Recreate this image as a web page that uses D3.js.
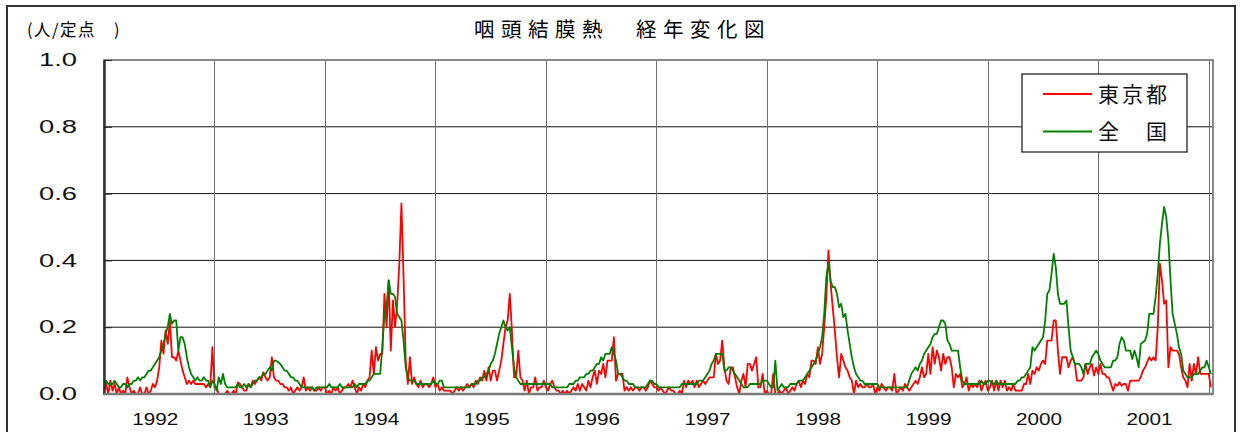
<!DOCTYPE html>
<html>
<head>
<meta charset="utf-8">
<script src="https://cdn.jsdelivr.net/npm/d3@7"></script>
<style>
  body { margin: 0; background: #fff; }
  svg { display: block; }
</style>
</head>
<body>
<div id="chart"></div>
<script>
// weekly reports per sentinel, 52 weeks a year, 1992 w1 .. 2002 w2
const years = [1992, 1993, 1994, 1995, 1996, 1997, 1998, 1999, 2000, 2001];
const yTicks = [0, 0.2, 0.4, 0.6, 0.8, 1.0];
const seriesNames = ["東京都", "全\u3000国"];

const tokyo = [
  // 1992
  0.01,0.03,0.00,0.04,0.01,0.03,0.00,0.02,0.00,0.01, 0.00,0.05,0.02,0.00,0.01,0.00,0.00,0.02,0.00,0.00,
  0.02,0.00,0.01,0.03,0.02,0.04,0.08,0.16,0.12,0.19, 0.15,0.22,0.11,0.11,0.10,0.13,0.10,0.07,0.05,0.03,
  0.04,0.03,0.04,0.03,0.03,0.03,0.03,0.03,0.02,0.03, 0.02,0.14,
  // 1993
  0.02,0.02,0.00,0.00,0.00,0.00,0.01,0.00,0.00,0.01, 0.00,0.035,0.03,0.02,0.01,0.01,0.03,0.02,0.04,0.03,
  0.04,0.05,0.04,0.065,0.05,0.04,0.05,0.11,0.05,0.04, 0.04,0.03,0.03,0.02,0.02,0.01,0.02,0.00,0.01,0.02,
  0.01,0.02,0.05,0.01,0.02,0.01,0.02,0.01,0.01,0.02, 0.01,0.02,
  // 1994
  0.02,0.00,0.01,0.00,0.02,0.01,0.02,0.00,0.01,0.02, 0.02,0.03,0.02,0.04,0.02,0.00,0.02,0.01,0.03,0.02,
  0.04,0.05,0.13,0.06,0.14,0.10,0.12,0.12,0.30,0.20, 0.34,0.13,0.28,0.20,0.27,0.39,0.57,0.35,0.10,0.03,
  0.11,0.03,0.05,0.03,0.02,0.04,0.02,0.03,0.03,0.02, 0.03,0.05,
  // 1995
  0.02,0.03,0.01,0.02,0.01,0.01,0.01,0.01,0.00,0.01, 0.02,0.01,0.02,0.01,0.02,0.03,0.02,0.03,0.02,0.04,
  0.03,0.05,0.04,0.07,0.04,0.08,0.04,0.07,0.07,0.04, 0.07,0.10,0.15,0.20,0.22,0.30,0.19,0.05,0.05,0.13,
  0.05,0.04,0.01,0.04,0.00,0.02,0.02,0.05,0.01,0.02, 0.02,0.04,
  // 1996
  0.02,0.01,0.03,0.04,0.02,0.01,0.01,0.00,0.01,0.00, 0.01,0.00,0.01,0.02,0.01,0.03,0.01,0.03,0.02,0.01,
  0.04,0.02,0.05,0.07,0.03,0.07,0.06,0.09,0.05,0.10, 0.10,0.10,0.17,0.04,0.06,0.06,0.06,0.01,0.02,0.01,
  0.02,0.01,0.02,0.02,0.01,0.02,0.02,0.01,0.02,0.04, 0.03,0.02,
  // 1997
  0.02,0.01,0.02,0.01,0.00,0.01,0.02,0.01,0.01,0.00, 0.00,0.01,0.00,0.04,0.02,0.04,0.03,0.04,0.02,0.04,
  0.02,0.03,0.04,0.03,0.04,0.05,0.05,0.05,0.12,0.09, 0.10,0.16,0.08,0.04,0.03,0.08,0.08,0.05,0.02,0.00,
  0.04,0.06,0.02,0.09,0.09,0.07,0.09,0.11,0.02,0.02, 0.06,0.00,
  // 1998
  0.01,0.00,0.00,0.06,0.00,0.00,0.01,0.00,0.01,0.02, 0.00,0.01,0.02,0.01,0.03,0.04,0.02,0.04,0.03,0.06,
  0.05,0.10,0.10,0.09,0.14,0.09,0.12,0.20,0.29,0.43, 0.33,0.26,0.19,0.11,0.05,0.12,0.10,0.08,0.07,0.05,
  0.04,0.00,0.04,0.02,0.03,0.02,0.02,0.03,0.02,0.02, 0.03,0.00,
  // 1999
  0.02,0.01,0.03,0.02,0.01,0.02,0.02,0.01,0.06,0.00, 0.01,0.02,0.01,0.03,0.02,0.01,0.02,0.03,0.04,0.03,
  0.05,0.08,0.05,0.06,0.12,0.06,0.14,0.09,0.13,0.11, 0.07,0.12,0.09,0.11,0.11,0.08,0.02,0.06,0.05,0.06,
  0.02,0.03,0.05,0.01,0.03,0.02,0.03,0.02,0.04,0.01, 0.03,0.04,
  // 2000
  0.01,0.02,0.04,0.01,0.04,0.01,0.04,0.02,0.04,0.01, 0.02,0.01,0.03,0.01,0.01,0.01,0.01,0.03,0.03,0.06,
  0.03,0.07,0.06,0.08,0.07,0.09,0.10,0.09,0.16,0.16, 0.16,0.22,0.22,0.13,0.06,0.11,0.11,0.11,0.08,0.10,
  0.11,0.09,0.04,0.04,0.04,0.05,0.09,0.06,0.08,0.09, 0.055,0.08,
  // 2001
  0.06,0.09,0.06,0.06,0.05,0.05,0.03,0.01,0.03,0.025, 0.035,0.025,0.03,0.03,0.01,0.04,0.04,0.04,0.04,0.04,
  0.05,0.07,0.08,0.095,0.11,0.10,0.11,0.10,0.20,0.39, 0.34,0.27,0.28,0.08,0.14,0.13,0.13,0.13,0.12,0.08,
  0.05,0.04,0.02,0.09,0.04,0.09,0.06,0.11,0.06,0.06, 0.06,0.06,
  // 2002
  0.06,0.02
];

const national = [
  // 1992
  0.01,0.04,0.03,0.03,0.03,0.04,0.03,0.02,0.02,0.03, 0.03,0.02,0.03,0.03,0.04,0.04,0.05,0.04,0.05,0.05,
  0.06,0.07,0.07,0.08,0.09,0.10,0.11,0.13,0.15,0.18, 0.20,0.24,0.21,0.22,0.22,0.13,0.17,0.17,0.15,0.11,
  0.08,0.06,0.05,0.04,0.05,0.04,0.04,0.05,0.04,0.04, 0.02,0.04,
  // 1993
  0.03,0.01,0.05,0.03,0.06,0.03,0.02,0.02,0.02,0.02, 0.02,0.03,0.02,0.02,0.03,0.02,0.03,0.02,0.03,0.04,
  0.04,0.05,0.05,0.06,0.06,0.07,0.08,0.07,0.10,0.10, 0.095,0.09,0.08,0.07,0.07,0.06,0.05,0.05,0.04,0.04,
  0.03,0.02,0.02,0.02,0.02,0.02,0.02,0.01,0.02,0.02, 0.02,0.02,
  // 1994
  0.02,0.02,0.03,0.02,0.02,0.02,0.02,0.03,0.02,0.02, 0.02,0.02,0.02,0.02,0.03,0.02,0.03,0.03,0.03,0.03,
  0.04,0.04,0.05,0.06,0.06,0.06,0.06,0.14,0.24,0.26, 0.34,0.30,0.30,0.29,0.24,0.23,0.22,0.16,0.08,0.05,
  0.04,0.04,0.04,0.03,0.03,0.03,0.03,0.03,0.03,0.03, 0.03,0.04,
  // 1995
  0.03,0.03,0.04,0.04,0.02,0.02,0.02,0.02,0.02,0.02, 0.02,0.02,0.02,0.02,0.02,0.02,0.02,0.03,0.03,0.03,
  0.04,0.04,0.05,0.05,0.06,0.07,0.09,0.10,0.12,0.15, 0.18,0.20,0.22,0.20,0.19,0.20,0.14,0.08,0.05,0.04,
  0.03,0.03,0.03,0.03,0.03,0.03,0.03,0.03,0.03,0.03, 0.03,0.03,
  // 1996
  0.03,0.03,0.03,0.02,0.02,0.02,0.02,0.02,0.02,0.02, 0.02,0.03,0.03,0.03,0.04,0.04,0.05,0.05,0.05,0.06,
  0.06,0.07,0.07,0.08,0.09,0.09,0.11,0.10,0.12,0.12, 0.12,0.14,0.12,0.10,0.06,0.06,0.05,0.04,0.04,0.03,
  0.03,0.03,0.02,0.02,0.02,0.02,0.02,0.02,0.03,0.04, 0.04,0.03,
  // 1997
  0.03,0.02,0.02,0.02,0.02,0.02,0.02,0.02,0.02,0.02, 0.02,0.02,0.03,0.03,0.03,0.03,0.03,0.03,0.03,0.03,
  0.04,0.04,0.04,0.05,0.06,0.07,0.09,0.10,0.12,0.12, 0.12,0.12,0.07,0.07,0.08,0.08,0.07,0.06,0.05,0.04,
  0.03,0.02,0.02,0.02,0.03,0.03,0.03,0.03,0.03,0.03, 0.04,0.04,
  // 1998
  0.04,0.03,0.02,0.02,0.10,0.01,0.02,0.03,0.02,0.02, 0.02,0.03,0.03,0.03,0.03,0.04,0.04,0.04,0.05,0.06,
  0.07,0.08,0.09,0.10,0.12,0.14,0.17,0.24,0.35,0.39, 0.34,0.32,0.32,0.30,0.26,0.27,0.23,0.24,0.19,0.15,
  0.11,0.08,0.06,0.05,0.04,0.04,0.03,0.03,0.03,0.03, 0.03,0.03,
  // 1999
  0.03,0.02,0.02,0.02,0.02,0.02,0.02,0.02,0.02,0.02, 0.02,0.02,0.02,0.02,0.02,0.04,0.06,0.07,0.08,0.07,
  0.09,0.10,0.12,0.13,0.14,0.15,0.17,0.18,0.18,0.20, 0.22,0.22,0.21,0.16,0.15,0.13,0.13,0.13,0.13,0.08,
  0.04,0.03,0.03,0.03,0.03,0.03,0.03,0.03,0.03,0.04, 0.03,0.03,
  // 2000
  0.04,0.04,0.03,0.03,0.04,0.03,0.03,0.03,0.03,0.03, 0.03,0.03,0.03,0.03,0.04,0.04,0.05,0.05,0.06,0.07,
  0.08,0.14,0.13,0.14,0.15,0.16,0.17,0.22,0.30,0.31, 0.36,0.42,0.38,0.30,0.27,0.27,0.27,0.28,0.20,0.13,
  0.11,0.09,0.09,0.09,0.08,0.06,0.09,0.09,0.09,0.11, 0.12,0.13,
  // 2001
  0.12,0.10,0.09,0.08,0.08,0.08,0.08,0.10,0.10,0.11, 0.15,0.17,0.16,0.13,0.13,0.13,0.105,0.13,0.11,0.08,
  0.15,0.155,0.16,0.18,0.24,0.24,0.24,0.29,0.36,0.45, 0.51,0.56,0.53,0.46,0.34,0.24,0.21,0.18,0.14,0.12,
  0.07,0.06,0.05,0.05,0.05,0.06,0.06,0.06,0.07,0.08, 0.08,0.10,
  // 2002
  0.08,0.06
];

const colors = ["#ff0000", "#008000"];
const W = 1240, H = 432;
const weeks = 52;
const plot = {left: 104, right: 1213, top: 60, bottom: 394};

const svg = d3.select("#chart").append("svg")
    .attr("width", W)
    .attr("height", H);

// outer frame of the chart object
svg.append("path")
    .attr("d", `M7,${H + 5}V6H1235V${H + 5}`)
    .attr("fill", "none")
    .attr("stroke", "#333")
    .attr("stroke-width", 2);

var x = d3.scaleLinear()
    .domain([0, years.length * weeks + 2])
    .range([plot.left, plot.right]);
var y = d3.scaleLinear()
    .domain([0, 1])
    .range([plot.bottom, plot.top]);

// horizontal grid
svg.append("g")
    .selectAll("line")
    .data(yTicks.filter(d => d > 0 && d < 1))
    .join("line")
    .attr("x1", plot.left).attr("x2", plot.right)
    .attr("y1", d => y(d)).attr("y2", d => y(d))
    .attr("stroke", "#111")
    .attr("stroke-width", 1);

// year separators
svg.append("g")
    .selectAll("line")
    .data(d3.range(1, years.length + 1))
    .join("line")
    .attr("x1", d => Math.round(x(d * weeks)) + 0.5)
    .attr("x2", d => Math.round(x(d * weeks)) + 0.5)
    .attr("y1", plot.top).attr("y2", plot.bottom)
    .attr("stroke", "#6e6e6e")
    .attr("stroke-width", 1);

// plot border
svg.append("rect")
    .attr("x", plot.left).attr("y", plot.top)
    .attr("width", plot.right - plot.left)
    .attr("height", plot.bottom - plot.top)
    .attr("fill", "none")
    .attr("stroke", "#8a8a8a")
    .attr("stroke-width", 2);

// series
const line = d3.line()
    .x((d, i) => x(i))
    .y(d => y(d));

[tokyo, national].forEach((s, k) => {
    svg.append("path")
        .datum(s)
        .attr("fill", "none")
        .attr("stroke", colors[k])
        .attr("stroke-width", 1.8)
        .attr("stroke-linejoin", "round")
        .attr("d", line);
});

// y axis
const yAxis = svg.append("g")
    .attr("transform", `translate(${plot.left},0)`)
    .call(d3.axisLeft(y)
        .tickValues(yTicks)
        .tickFormat(d3.format(".1f"))
        .tickSizeInner(-8)
        .tickSizeOuter(0)
        .tickPadding(27));
yAxis.select(".domain").attr("stroke", "#333").attr("stroke-width", 2.5);
yAxis.selectAll(".tick line").attr("stroke", "#222");
yAxis.selectAll("text")
    .attr("font-family", "'Liberation Sans', Arial, sans-serif")
    .attr("font-size", 18)
    .attr("fill", "#111")
    .attr("textLength", 38)
    .attr("lengthAdjust", "spacingAndGlyphs");

// bottom axis line
svg.append("line")
    .attr("x1", plot.left).attr("x2", plot.right)
    .attr("y1", plot.bottom).attr("y2", plot.bottom)
    .attr("stroke", "#7a7a7a")
    .attr("stroke-width", 2.5);

// year labels
svg.append("g")
    .selectAll("text")
    .data(years)
    .join("text")
    .attr("x", (d, i) => x(i * weeks + weeks / 2) - 4)
    .attr("y", 425)
    .attr("text-anchor", "middle")
    .attr("font-family", "'Liberation Sans', Arial, sans-serif")
    .attr("font-size", 17)
    .attr("fill", "#111")
    .attr("textLength", 46)
    .attr("lengthAdjust", "spacingAndGlyphs")
    .text(d => d);

// title and unit
svg.append("text")
    .attr("x", 474).attr("y", 37)
    .attr("font-family", "'Noto Sans CJK JP', sans-serif")
    .attr("font-size", 20.5)
    .attr("letter-spacing", 6.5)
    .attr("fill", "#000")
    .text("咽頭結膜熱\u3000経年変化図");

svg.append("text")
    .attr("x", 27).attr("y", 36)
    .attr("font-family", "'Noto Sans CJK JP', sans-serif")
    .attr("font-size", 16.5)
    .attr("letter-spacing", 1.5)
    .attr("fill", "#000")
    .text("(人/定点\u3000)");

// legend
const legend = svg.append("g").attr("transform", "translate(1022,74)");
legend.append("rect")
    .attr("width", 165).attr("height", 78)
    .attr("fill", "#fff")
    .attr("stroke", "#111")
    .attr("stroke-width", 1.2);
const item = legend.selectAll("g")
    .data(seriesNames)
    .join("g")
    .attr("transform", (d, i) => `translate(0,${20 + i * 37.5})`);
item.append("line")
    .attr("x1", 21).attr("x2", 70)
    .attr("stroke", (d, i) => colors[i])
    .attr("stroke-width", 1.8);
item.append("text")
    .attr("x", 76).attr("y", 7.5)
    .attr("font-family", "'Noto Sans CJK JP', sans-serif")
    .attr("font-size", 21)
    .attr("letter-spacing", 3)
    .attr("fill", "#111")
    .text(d => d);
</script>
</body>
</html>
